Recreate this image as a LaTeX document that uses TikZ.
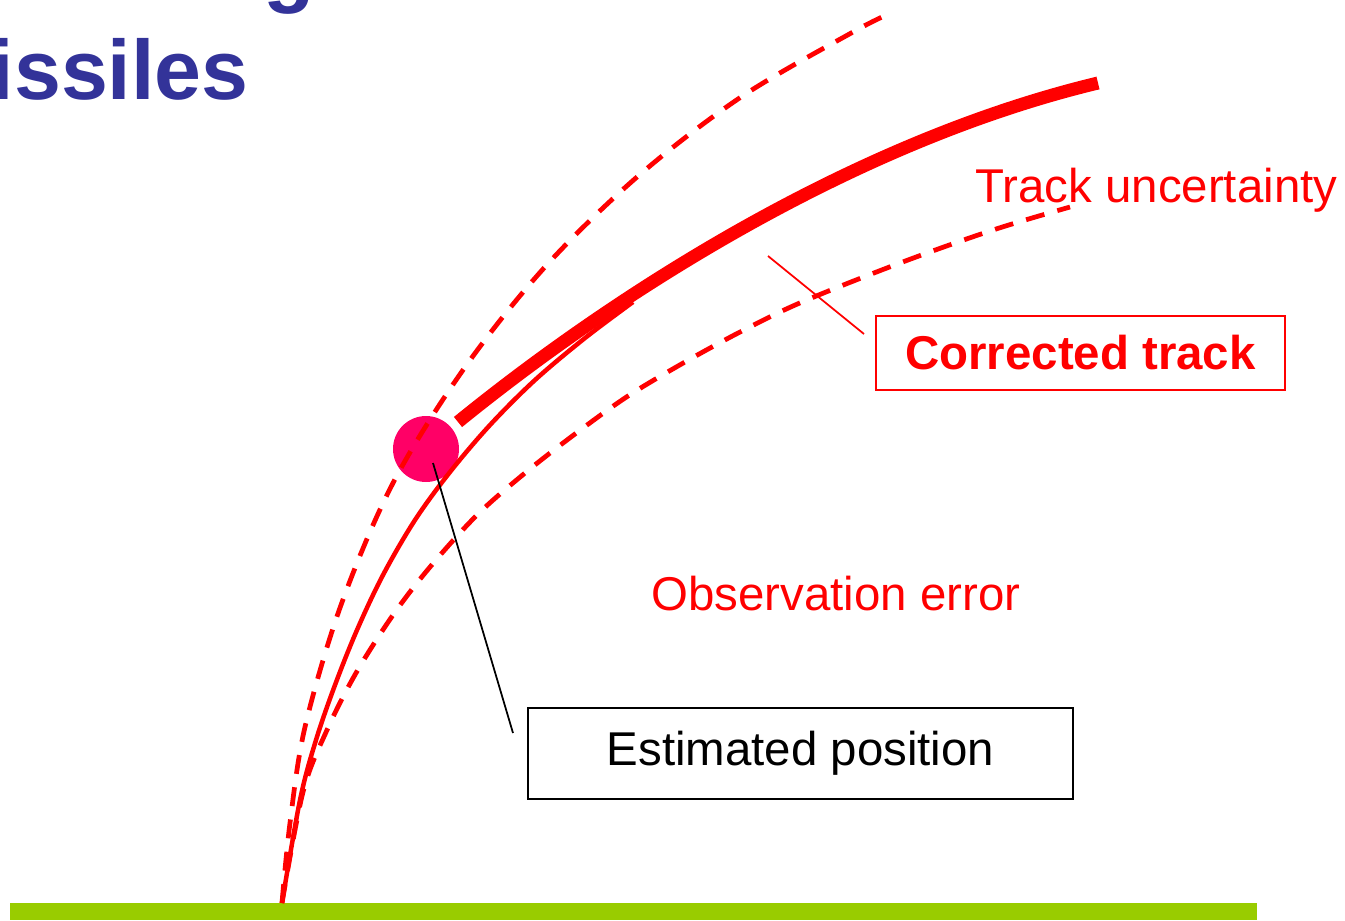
\documentclass[tikz,border=0pt]{standalone}
\usepackage{fontspec}
\setmainfont{Liberation Sans}
\definecolor{barg}{RGB}{153,204,0}
\definecolor{titlec}{RGB}{51,51,153}
\definecolor{dotc}{RGB}{255,0,102}
\begin{document}
\begin{tikzpicture}[x=0.02cm,y=-0.02cm,
  thin/.style={draw=red, line width=0.09cm},
  dsh/.style={draw=red, line width=0.095cm, dash pattern=on 0.38cm off 0.27cm},
  thick/.style={draw=red, line width=0.26cm},
  lbl/.style={font=\fontsize{27}{32}\selectfont, inner sep=0pt},
  ttl/.style={font=\fontsize{48}{58}\selectfont\bfseries, text=titlec, inner sep=0pt},
  lead/.style={line width=0.035cm}]
\useasboundingbox (0,0) rectangle (1345,920);
\clip (0,0) rectangle (1345,920);
% ground
\fill[barg] (10,903) rectangle (1257,920);
% title fragments
\node[ttl, anchor=base east] (t1) at (315,-4) {g};
\node[ttl, anchor=base east] (t2) at (249,99) {issiles};
% estimated position dot
\node[circle, fill=dotc, minimum size=1.32cm, inner sep=0pt] (dot) at (426,449) {};
% upper uncertainty bound
\draw[dsh] plot[smooth, tension=0.55] coordinates {(282,903) (290,823) (305,727) (341,605) (393,483) (463,370) (544,268) (637,177) (741,97) (853,32) (891,13)};
% lower uncertainty bound
\draw[dsh] plot[smooth, tension=0.55] coordinates {(282,903) (303,792) (327,730) (356,673) (393,615) (430,567) (477,515) (525,473) (575,434) (628,396) (685,362) (742,331) (802,302) (900,263) (993,230) (1070,207)};
% observed track
\draw[thin] plot[smooth, tension=0.55] coordinates {(282,903) (300,800) (316,740) (335,685) (357,630) (383,575) (415,520) (450,472) (490,425) (535,380) (585,338) (633,302)};
% corrected track
\draw[thick] (458,422) .. controls (608,300) and (848,143) .. (1098,83);
% labels
\node[lbl, text=red, anchor=base west] (tu) at (975,202) {Track uncertainty};
\node[lbl, text=red, anchor=base west] (oe) at (651,610) {Observation error};
\node[lbl, draw=red, line width=0.04cm, minimum width=8.18cm, minimum height=1.48cm, text=red, font=\fontsize{27}{32}\selectfont\bfseries] (ct) at (1080.5,353) {Corrected track};
\node[lbl, draw=black, line width=0.04cm, minimum width=10.9cm, minimum height=1.82cm] (ep) at (800.5,753.5) {Estimated position};
% leaders
\coordinate (ctA) at (768,256);
\coordinate (ctB) at (864,334);
\draw[lead, red] (ctA) -- (ctB);
\coordinate (epA) at (433,463);
\coordinate (epB) at (513,733);
\draw[lead, black] (epA) -- (epB);
\end{tikzpicture}
\end{document}
